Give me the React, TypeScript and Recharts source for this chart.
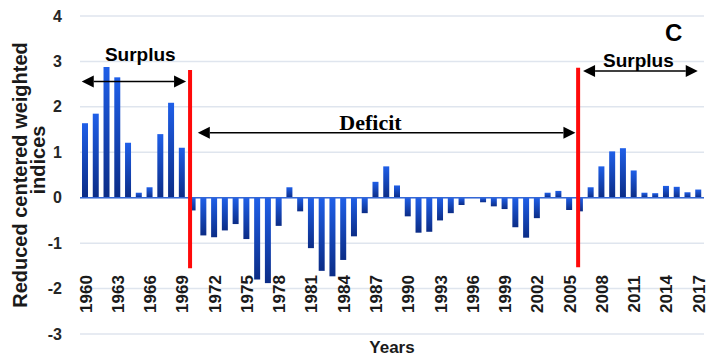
import React from "react";
import {
  BarChart,
  Bar,
  XAxis,
  YAxis,
  CartesianGrid,
  ReferenceLine,
  ReferenceDot,
} from "recharts";

// annual indices, 1960 - 2017
const years = [
  1960, 1961, 1962, 1963, 1964, 1965, 1966, 1967, 1968, 1969,
  1970, 1971, 1972, 1973, 1974, 1975, 1976, 1977, 1978, 1979,
  1980, 1981, 1982, 1983, 1984, 1985, 1986, 1987, 1988, 1989,
  1990, 1991, 1992, 1993, 1994, 1995, 1996, 1997, 1998, 1999,
  2000, 2001, 2002, 2003, 2004, 2005, 2006, 2007, 2008, 2009,
  2010, 2011, 2012, 2013, 2014, 2015, 2016, 2017,
];

const indices = [
  1.64, 1.85, 2.88, 2.65, 1.21, 0.11, 0.23, 1.4, 2.09, 1.1,
  -0.28, -0.83, -0.87, -0.72, -0.58, -0.91, -1.8, -1.88, -0.62, 0.23,
  -0.3, -1.11, -1.61, -1.73, -1.37, -0.85, -0.34, 0.35, 0.69, 0.27,
  -0.41, -0.77, -0.75, -0.5, -0.34, -0.16, 0.0, -0.1, -0.19, -0.25,
  -0.65, -0.88, -0.45, 0.11, 0.15, -0.27, -0.3, 0.23, 0.69, 1.02,
  1.09, 0.6, 0.11, 0.1, 0.26, 0.24, 0.12, 0.18,
];

const yearTicks = [
  1960, 1963, 1966, 1969, 1972, 1975, 1978, 1981, 1984, 1987,
  1990, 1993, 1996, 1999, 2002, 2005, 2008, 2011, 2014, 2017,
];
const yTicks = [-3, -2, -1, 0, 1, 2, 3, 4];

// regime breaks (red bars), in fractional years
const breakYears = [1969.73, 2005.8];
const breakTop = [2.81, 2.86];
const breakBottom = [-1.55, -1.53];

// period arrows and their captions
const periodNames = ["Surplus", "Deficit", "Surplus"];
const periodFrom = [1959.66, 1970.45, 2006.26];
const periodTo = [1969.36, 2005.55, 2016.92];
const periodLevel = [2.56, 1.43, 2.79];
const captionYear = [1965.1, 1986.5, 2011.4];
const captionLevel = [3.01, 1.48, 2.88];

const data = years.map((y, i) => ({ year: y, value: indices[i] }));

const sans = "'Liberation Sans', Arial, sans-serif";
const serif = "'Liberation Serif', 'Times New Roman', serif";

const YearTick = (props: any) => {
  const { x, y, payload } = props;
  return (
    <text
      transform={`translate(${x},${y - 42}) rotate(-90)`}
      textAnchor="middle"
      dy="0.36em"
      fontFamily={sans}
      fontWeight="bold"
      fontSize={17}
      fill="#1a1a1a"
    >
      {payload.value}
    </text>
  );
};

const ValueTick = (props: any) => {
  const { x, y, payload } = props;
  return (
    <text
      x={x}
      y={y}
      dy="0.35em"
      textAnchor="end"
      fontFamily={sans}
      fontWeight="bold"
      fontSize={16}
      fill="#262626"
    >
      {payload.value}
    </text>
  );
};

const YTitle = (props: any) => {
  const vb = props.viewBox;
  const cy = vb.y + vb.height / 2;
  return (
    <g fontFamily={sans} fontWeight="bold" fontSize={20} fill="#1a1a1a">
      <text
        transform={`translate(20,${cy}) rotate(-90)`}
        textAnchor="middle"
        dy="0.35em"
      >
        Reduced centered weighted
      </text>
      <text
        transform={`translate(38,${cy - 15}) rotate(-90)`}
        textAnchor="middle"
        dy="0.35em"
      >
        indices
      </text>
    </g>
  );
};

// double-headed arrow
const Arrow = (props: any) => {
  const { x1, y1, x2 } = props;
  const h = 6;
  const l = 12;
  return (
    <g>
      <line x1={x1 + l} y1={y1} x2={x2 - l} y2={y1} stroke="#000" strokeWidth={1.5} />
      <polygon points={`${x1},${y1} ${x1 + l},${y1 - h} ${x1 + l},${y1 + h}`} fill="#000" />
      <polygon points={`${x2},${y1} ${x2 - l},${y1 - h} ${x2 - l},${y1 + h}`} fill="#000" />
    </g>
  );
};

const Caption = (label: string) => (props: any) => {
  const isSerif = label === "Deficit";
  return (
    <text
      x={props.cx}
      y={props.cy}
      textAnchor="middle"
      fontFamily={isSerif ? serif : sans}
      fontWeight="bold"
      fontSize={isSerif ? 22 : 19}
      fill="#000"
    >
      {label}
    </text>
  );
};

export default function App() {
  return (
    <div style={{ position: "absolute", left: 0, top: 0, width: 707, height: 359, background: "#fff" }}>
      <BarChart
        width={707}
        height={359}
        data={data}
        margin={{ top: 16, right: 3, bottom: 0, left: 0 }}
        barSize={6}
      >
        <defs>
          <linearGradient id="barFill" x1="0" y1="0" x2="0" y2="1">
            <stop offset="0%" stopColor="#1f5fe8" />
            <stop offset="100%" stopColor="#0b2c86" />
          </linearGradient>
        </defs>
        <CartesianGrid vertical={false} stroke="#dfe5ee" strokeWidth={1.5} />
        <XAxis
          dataKey="year"
          type="number"
          domain={[1959.5, 2017.5]}
          allowDataOverflow
          ticks={yearTicks}
          interval={0}
          height={25}
          axisLine={false}
          tickLine={false}
          tickSize={0}
          tick={<YearTick />}
          label={{
            value: "Years",
            position: "insideBottom",
            offset: 6,
            style: { fontFamily: sans, fontWeight: "bold", fontSize: 17, fill: "#1a1a1a" },
          }}
        />
        <YAxis
          width={80}
          domain={[-3, 4]}
          ticks={yTicks}
          interval={0}
          axisLine={false}
          tickLine={false}
          tickSize={0}
          tickMargin={18}
          tick={<ValueTick />}
          label={{ content: YTitle }}
        />
        <Bar dataKey="value" fill="url(#barFill)" isAnimationActive={false} />
        <ReferenceLine y={0} stroke="#3467d6" strokeWidth={1.5} />
        {breakYears.map((bx, i) => (
          <ReferenceLine
            key={`b${i}`}
            segment={[
              { x: bx, y: breakTop[i] },
              { x: bx, y: breakBottom[i] },
            ]}
            stroke="#ff0a0a"
            strokeWidth={4}
          />
        ))}
        {periodNames.map((name, i) => (
          <ReferenceLine
            key={`p${i}`}
            segment={[
              { x: periodFrom[i], y: periodLevel[i] },
              { x: periodTo[i], y: periodLevel[i] },
            ]}
            shape={Arrow}
          />
        ))}
        {periodNames.map((name, i) => (
          <ReferenceDot
            key={`c${i}`}
            x={captionYear[i]}
            y={captionLevel[i]}
            r={0}
            shape={Caption(name)}
          />
        ))}
      </BarChart>
      <div
        style={{
          position: "absolute",
          left: 665,
          top: 19,
          fontFamily: sans,
          fontWeight: "bold",
          fontSize: 24,
          lineHeight: "normal",
          color: "#000",
        }}
      >
        C
      </div>
    </div>
  );
}
